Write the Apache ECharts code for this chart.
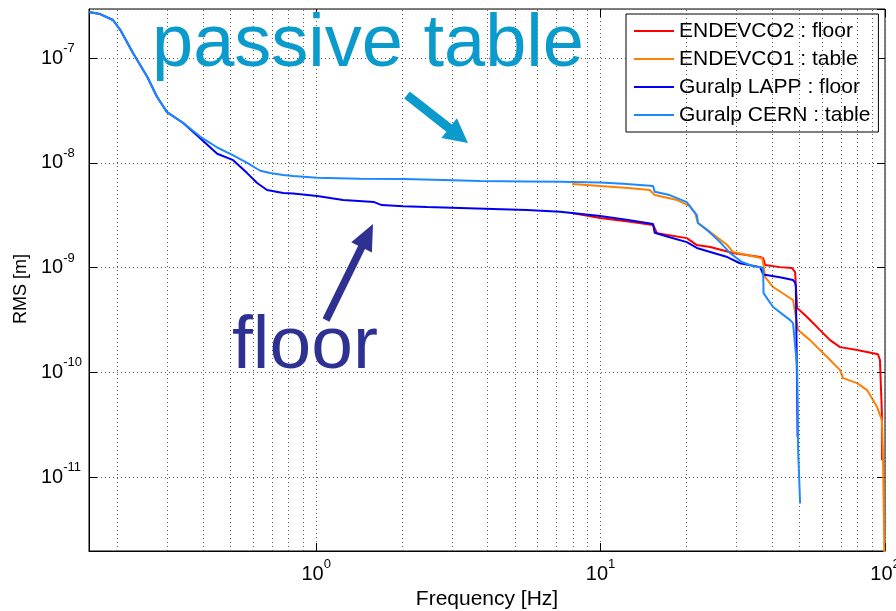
<!DOCTYPE html>
<html>
<head>
<meta charset="utf-8">
<script src="https://cdn.jsdelivr.net/npm/echarts@6/dist/echarts.min.js"></script>
<style>
  html, body { margin: 0; padding: 0; background: #fff; }
  #chart { width: 896px; height: 611px; }
</style>
</head>
<body>
<div id="chart"></div>
<script>
// ENDEVCO2 : floor
const endevco2Freq = [7.94, 9.96, 12.5, 15.3, 15.8, 20.1, 21.8, 24.3, 29.2, 36.4, 37.3, 37.9, 42.7, 47.1, 48.3, 49.1, 52.3, 55.4, 59.1, 64.1, 69.5, 79.8, 94.5, 96.0, 97.5, 97.6];
const endevco2Rms  = [3.31e-9, 2.97e-9, 2.75e-9, 2.55e-9, 2.13e-9, 1.91e-9, 1.64e-9, 1.57e-9, 1.38e-9, 1.26e-9, 1.23e-9, 1.06e-9, 1.01e-9, 9.9e-10, 9.06e-10, 4.11e-10, 3.52e-10, 3.02e-10, 2.53e-10, 2.03e-10, 1.74e-10, 1.63e-10, 1.49e-10, 1.31e-10, 4.1e-11, 1.45e-11];

// ENDEVCO1 : table
const endevco1Freq = [7.94, 9.96, 12.5, 14.9, 15.5, 18.6, 20.6, 21.5, 22.0, 24.3, 27.9, 29.2, 32.7, 37.0, 37.3, 37.9, 40.4, 47.5, 49.5, 54.5, 62.6, 69.5, 71.2, 79.8, 86.5, 93.8, 97.5, 98.3, 99.6];
const endevco1Rms  = [6.27e-9, 6.0e-9, 5.75e-9, 5.5e-9, 4.92e-9, 4.41e-9, 3.86e-9, 3.31e-9, 2.66e-9, 2.18e-9, 1.64e-9, 1.41e-9, 1.32e-9, 1.23e-9, 1.1e-9, 8.1e-10, 6.52e-10, 4.9e-10, 2.53e-10, 2.03e-10, 1.4e-10, 1.05e-10, 8.81e-11, 7.89e-11, 6.77e-11, 4.66e-11, 3.5e-11, 1.81e-11, 1.5e-12];

// Guralp LAPP : floor
const lappFreq = [0.159, 0.174, 0.193, 0.205, 0.227, 0.255, 0.276, 0.299, 0.341, 0.391, 0.449, 0.511, 0.572, 0.62, 0.672, 0.766, 0.83, 1.008, 1.244, 1.6, 1.7, 2.022, 2.455, 3.207, 4.188, 5.515, 7.21, 9.96, 12.5, 15.3, 15.5, 17.5, 20.1, 21.8, 24.3, 27.9, 30.9, 36.4, 37.3, 42.7, 47.5, 48.3, 48.6, 49.0, 49.3];
const lappRms  = [2.75e-7, 2.63e-7, 2.31e-7, 1.85e-7, 1.12e-7, 6.6e-8, 4.25e-8, 3.05e-8, 2.4e-8, 1.72e-8, 1.22e-8, 1.06e-8, 7.98e-9, 6.41e-9, 5.5e-9, 5.14e-9, 5.1e-9, 4.82e-9, 4.41e-9, 4.22e-9, 3.95e-9, 3.86e-9, 3.78e-9, 3.7e-9, 3.62e-9, 3.54e-9, 3.42e-9, 3.1e-9, 2.85e-9, 2.6e-9, 2.15e-9, 1.95e-9, 1.75e-9, 1.54e-9, 1.41e-9, 1.26e-9, 1.1e-9, 1.01e-9, 8.6e-10, 8.1e-10, 7.6e-10, 7.2e-10, 6.5e-10, 1.0e-10, 2.4e-11];

// Guralp CERN : table
const cernFreq = [0.159, 0.174, 0.193, 0.205, 0.227, 0.255, 0.276, 0.299, 0.341, 0.391, 0.449, 0.511, 0.572, 0.636, 0.689, 0.766, 0.83, 1.008, 1.428, 2.022, 2.794, 3.772, 5.515, 7.21, 9.96, 12.0, 15.3, 15.5, 17.5, 20.1, 21.1, 21.8, 22.0, 23.7, 26.3, 28.5, 31.4, 34.4, 37.0, 37.3, 37.4, 40.4, 46.4, 47.5, 49.1, 49.5, 50.3];
const cernRms  = [2.75e-7, 2.63e-7, 2.31e-7, 1.85e-7, 1.12e-7, 6.6e-8, 4.25e-8, 3.05e-8, 2.4e-8, 1.78e-8, 1.4e-8, 1.18e-8, 1.0e-8, 8.4e-9, 8.0e-9, 7.64e-9, 7.47e-9, 7.2e-9, 7.05e-9, 7.0e-9, 6.85e-9, 6.7e-9, 6.65e-9, 6.6e-9, 6.5e-9, 6.3e-9, 6.0e-9, 5.3e-9, 4.92e-9, 4.22e-9, 3.54e-9, 3.17e-9, 2.66e-9, 2.28e-9, 1.75e-9, 1.38e-9, 1.13e-9, 1.03e-9, 1.0e-9, 9.4e-10, 5.7e-10, 4.2e-10, 3.15e-10, 2.95e-10, 1.12e-10, 1.8e-11, 5.6e-12];

const seriesNames = ['ENDEVCO2 : floor', 'ENDEVCO1 : table', 'Guralp LAPP : floor', 'Guralp CERN : table'];
const seriesColors = ['#ff0000', '#ff8000', '#0000f0', '#1e88ff'];

// axis ranges and the decades used for matlab style minor grid
const freqMin = 0.159, freqMax = 100;
const rmsMin = 1.97e-12, rmsMax = 2.94e-7;
const freqDecades = [0.1, 1, 10];
const rmsDecades = [1e-12, 1e-11, 1e-10, 1e-9, 1e-8, 1e-7];

const FONT = '"Liberation Sans", Arial, sans-serif';

function zip(xs, ys) {
  return xs.map((x, i) => [x, ys[i]]);
}

function minorLines(decades, lo, hi) {
  let out = [];
  decades.forEach(d => {
    for (let k = 2; k <= 9; k++) {
      let v = d * k;
      if (v > lo && v < hi) out.push(v);
    }
  });
  return out;
}

// arrow outline from tail to tip
function arrowPoints(tail, tip, shaft, headLen, headHalf) {
  let dx = tip[0] - tail[0], dy = tip[1] - tail[1];
  let len = Math.sqrt(dx * dx + dy * dy);
  let ux = dx / len, uy = dy / len;
  let nx = -uy, ny = ux;
  let bx = tip[0] - ux * headLen, by = tip[1] - uy * headLen;
  return [
    [tail[0] + nx * shaft, tail[1] + ny * shaft],
    [bx + nx * shaft, by + ny * shaft],
    [bx + nx * headHalf, by + ny * headHalf],
    tip,
    [bx - nx * headHalf, by - ny * headHalf],
    [bx - nx * shaft, by - ny * shaft],
    [tail[0] - nx * shaft, tail[1] - ny * shaft]
  ];
}

const gridLine = { color: '#5a5a5a', type: [1, 3], width: 1 };

function powLabel(v) {
  let e = Math.round(Math.log10(v));
  return '{b|10}{s|' + e + '}';
}

const labelRich = {
  b: { fontSize: 20, fontFamily: FONT, color: '#000' },
  s: { fontSize: 13, fontFamily: FONT, color: '#000', padding: [0, 0, 19, 0] }
};

const chart = echarts.init(document.getElementById('chart'), null, { renderer: 'canvas' });

const dataSets = [
  zip(endevco2Freq, endevco2Rms),
  zip(endevco1Freq, endevco1Rms),
  zip(lappFreq, lappRms),
  zip(cernFreq, cernRms)
];

let series = dataSets.map((d, i) => ({
  name: seriesNames[i],
  type: 'line',
  data: d,
  symbol: 'none',
  showSymbol: false,
  clip: true,
  z: 3 + i,
  color: seriesColors[i],
  lineStyle: { width: 2, color: seriesColors[i] },
  animation: false
}));

// minor grid, drawn under the curves
series.push({
  type: 'line',
  data: [],
  silent: true,
  z: 1,
  symbol: 'none',
  markLine: {
    silent: true,
    animation: false,
    symbol: ['none', 'none'],
    label: { show: false },
    lineStyle: gridLine,
    emphasis: { disabled: true },
    data: minorLines(freqDecades, freqMin, freqMax).map(v => ({ xAxis: v }))
      .concat(minorLines(rmsDecades, rmsMin, rmsMax).map(v => ({ yAxis: v })))
  }
});

const option = {
  backgroundColor: '#fff',
  animation: false,
  grid: {
    left: 89, right: 11, top: 9, bottom: 60,
    show: true, borderColor: '#000', borderWidth: 1,
    outerBoundsMode: 'none'
  },
  legend: {
    data: seriesNames,
    orient: 'vertical',
    left: 626, top: 14,
    padding: [6, 8, 6, 7],
    itemGap: 6,
    itemWidth: 40,
    itemHeight: 12,
    backgroundColor: '#fff',
    borderColor: '#000',
    borderWidth: 1,
    borderRadius: 0,
    selectedMode: false,
    itemStyle: { opacity: 0 },
    lineStyle: { width: 2 },
    textStyle: { fontSize: 21, fontFamily: FONT, color: '#000', lineHeight: 22 }
  },
  xAxis: [{
    type: 'log',
    min: freqMin, max: freqMax,
    name: 'Frequency [Hz]',
    nameLocation: 'middle',
    nameGap: 27,
    nameTextStyle: { fontSize: 21, fontFamily: FONT, color: '#000' },
    axisLine: { lineStyle: { color: '#000', width: 1 } },
    axisTick: { inside: true, length: 8, lineStyle: { color: '#000' } },
    axisLabel: { showMinLabel: false, formatter: powLabel, rich: labelRich, margin: 7 },
    splitLine: { show: true, lineStyle: gridLine }
  }, {
    type: 'log',
    position: 'top',
    min: freqMin, max: freqMax,
    axisLine: { show: false },
    axisTick: { inside: true, length: 8, lineStyle: { color: '#000' } },
    axisLabel: { show: false },
    splitLine: { show: false }
  }],
  yAxis: [{
    type: 'log',
    min: rmsMin, max: rmsMax,
    name: 'RMS [m]',
    nameLocation: 'middle',
    nameGap: 59,
    nameTextStyle: { fontSize: 18, fontFamily: FONT, color: '#000', padding: [0, 18, 0, 0] },
    axisLine: { show: true, lineStyle: { color: '#000', width: 1 } },
    axisTick: { inside: true, length: 8, lineStyle: { color: '#000' } },
    axisLabel: { showMinLabel: false, showMaxLabel: false, formatter: powLabel, rich: labelRich, margin: 48, align: 'left' },
    splitLine: { show: true, lineStyle: gridLine }
  }, {
    type: 'log',
    position: 'right',
    min: rmsMin, max: rmsMax,
    axisLine: { show: false },
    axisTick: { inside: true, length: 8, lineStyle: { color: '#000' } },
    axisLabel: { show: false },
    splitLine: { show: false }
  }],
  series: series,
  graphic: [
    {
      type: 'text', z: 100, silent: true,
      style: { x: 152, y: 46, text: 'passive table', fill: '#0a9acb', fontSize: 74, fontFamily: FONT, verticalAlign: 'middle' }
    },
    {
      type: 'polygon', z: 100, silent: true,
      shape: { points: arrowPoints([407, 95], [468, 143], 4.5, 24, 12.5) },
      style: { fill: '#0a9acb' }
    },
    {
      type: 'text', z: 100, silent: true,
      style: { x: 232, y: 347, text: 'floor', fill: '#2e3192', fontSize: 75, fontFamily: FONT, verticalAlign: 'middle' }
    },
    {
      type: 'polygon', z: 100, silent: true,
      shape: { points: arrowPoints([326, 320], [373, 224], 3.8, 26, 11.5) },
      style: { fill: '#2e3192' }
    }
  ]
};

chart.setOption(option);
</script>
</body>
</html>
